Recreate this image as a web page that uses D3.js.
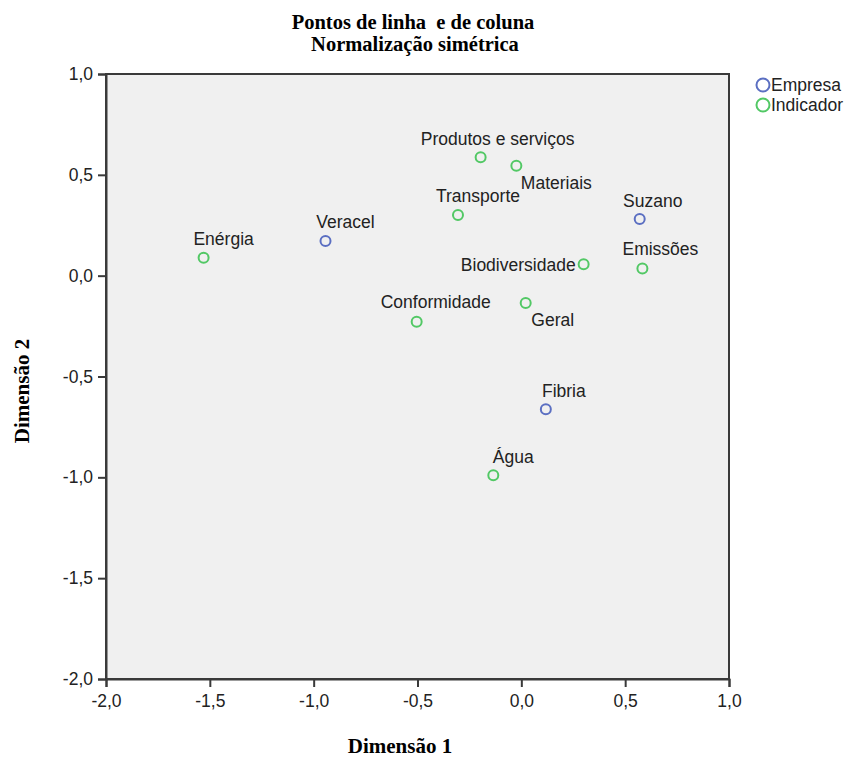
<!DOCTYPE html>
<html>
<head>
<meta charset="utf-8">
<script src="https://cdn.jsdelivr.net/npm/d3@7"></script>
<style>
  body { margin: 0; background: #fff; }
  svg { display: block; }
</style>
</head>
<body>
<div id="chart"></div>
<script>
// row points (Empresa) and column points (Indicador)
var empresaNames = ["Veracel", "Suzano", "Fibria"];
var empresaDim1 = [-0.943, 0.570, 0.118];
var empresaDim2 = [0.172, 0.281, -0.662];

var indicadorNames = ["Enérgia", "Produtos e serviços", "Materiais", "Transporte",
  "Biodiversidade", "Emissões", "Conformidade", "Geral", "Água"];
var indicadorDim1 = [-1.530, -0.196, -0.024, -0.305, 0.300, 0.583, -0.504, 0.021, -0.135];
var indicadorDim2 = [0.089, 0.587, 0.545, 0.301, 0.057, 0.036, -0.229, -0.136, -0.990];

var xTicks = [-2.0, -1.5, -1.0, -0.5, 0.0, 0.5, 1.0];
var yTicks = [-2.0, -1.5, -1.0, -0.5, 0.0, 0.5, 1.0];

// label nudges (pixels from the marker), anchor
var labelPlace = {
  "Veracel": [20, -13, "middle"],
  "Suzano": [13, -12, "middle"],
  "Fibria": [18, -12, "middle"],
  "Enérgia": [20, -13, "middle"],
  "Produtos e serviços": [17, -12, "middle"],
  "Materiais": [40, 23, "middle"],
  "Transporte": [20, -13, "middle"],
  "Biodiversidade": [-8, 7, "end"],
  "Emissões": [18, -13, "middle"],
  "Conformidade": [19, -14, "middle"],
  "Geral": [27, 23, "middle"],
  "Água": [20, -12, "middle"]
};

var W = 849, H = 760;
var plot = {left: 106, right: 729, top: 74, bottom: 679};
var blue = "#5b6fc2", green = "#52c865";
var sans = "'Liberation Sans', Arial, sans-serif";
var serif = "'Liberation Serif', 'Times New Roman', serif";
var labelSize = "17.5px";

var loc = d3.formatLocale({decimal: ",", thousands: ".", grouping: [3], currency: ["", ""], minus: "-"});
var fmt = loc.format(".1f");

var x = d3.scaleLinear().domain([-2, 1]).range([plot.left, plot.right]);
var y = d3.scaleLinear().domain([-2, 1]).range([plot.bottom, plot.top]);

var svg = d3.select("#chart").append("svg")
  .attr("width", W)
  .attr("height", H);

svg.append("rect")
  .attr("x", plot.left).attr("y", plot.top)
  .attr("width", plot.right - plot.left)
  .attr("height", plot.bottom - plot.top)
  .attr("fill", "#f0f0f0")
  .attr("stroke", "#3a3a3a")
  .attr("stroke-width", 2);

// axes
var yAxis = svg.append("g")
  .attr("transform", "translate(" + plot.left + ",0)")
  .call(d3.axisLeft(y).tickValues(yTicks).tickFormat(fmt).tickSize(8).tickPadding(5));

var xAxis = svg.append("g")
  .attr("transform", "translate(0," + plot.bottom + ")")
  .call(d3.axisBottom(x).tickValues(xTicks).tickFormat(fmt).tickSize(8).tickPadding(8));

[xAxis, yAxis].forEach(function(ax) {
  ax.select(".domain").attr("stroke", "#3a3a3a").attr("stroke-width", 2);
  ax.selectAll(".tick line").attr("stroke", "#3a3a3a").attr("stroke-width", 2);
  ax.selectAll(".tick text")
    .attr("fill", "#222")
    .style("font-family", sans)
    .style("font-size", labelSize);
});

// points
var empresa = empresaNames.map(function(n, i) { return {name: n, d1: empresaDim1[i], d2: empresaDim2[i], color: blue}; });
var indicador = indicadorNames.map(function(n, i) { return {name: n, d1: indicadorDim1[i], d2: indicadorDim2[i], color: green}; });
var all = empresa.concat(indicador);

svg.append("g").selectAll("circle")
  .data(all)
  .enter().append("circle")
  .attr("cx", function(d) { return x(d.d1); })
  .attr("cy", function(d) { return y(d.d2); })
  .attr("r", 5)
  .attr("fill", "none")
  .attr("stroke", function(d) { return d.color; })
  .attr("stroke-width", 2);

svg.append("g").selectAll("text")
  .data(all)
  .enter().append("text")
  .attr("x", function(d) { return x(d.d1) + labelPlace[d.name][0]; })
  .attr("y", function(d) { return y(d.d2) + labelPlace[d.name][1]; })
  .attr("text-anchor", function(d) { return labelPlace[d.name][2]; })
  .attr("fill", "#222")
  .style("font-family", sans)
  .style("font-size", labelSize)
  .text(function(d) { return d.name; });

// title
svg.append("text")
  .attr("x", 413).attr("y", 29)
  .attr("text-anchor", "middle")
  .style("font-family", serif).style("font-weight", "bold").style("font-size", "20.5px")
  .style("white-space", "pre")
  .text("Pontos de linha  e de coluna");

svg.append("text")
  .attr("x", 415).attr("y", 51)
  .attr("text-anchor", "middle")
  .style("font-family", serif).style("font-weight", "bold").style("font-size", "20.5px")
  .text("Normalização simétrica");

// axis titles
svg.append("text")
  .attr("x", 400).attr("y", 753)
  .attr("text-anchor", "middle")
  .style("font-family", serif).style("font-weight", "bold").style("font-size", "21px")
  .text("Dimensão 1");

svg.append("text")
  .attr("transform", "translate(29,391) rotate(-90)")
  .attr("text-anchor", "middle")
  .style("font-family", serif).style("font-weight", "bold").style("font-size", "21px")
  .text("Dimensão 2");

// legend
var legend = svg.append("g").attr("transform", "translate(763,85)");
var legendItems = [{name: "Empresa", color: blue}, {name: "Indicador", color: green}];
var li = legend.selectAll("g")
  .data(legendItems)
  .enter().append("g")
  .attr("transform", function(d, i) { return "translate(0," + (i * 20) + ")"; });

li.append("circle")
  .attr("r", 6.5)
  .attr("fill", "none")
  .attr("stroke", function(d) { return d.color; })
  .attr("stroke-width", 2);

li.append("text")
  .attr("x", 8).attr("y", 6)
  .attr("fill", "#222")
  .style("font-family", sans)
  .style("font-size", labelSize)
  .text(function(d) { return d.name; });
</script>
</body>
</html>
